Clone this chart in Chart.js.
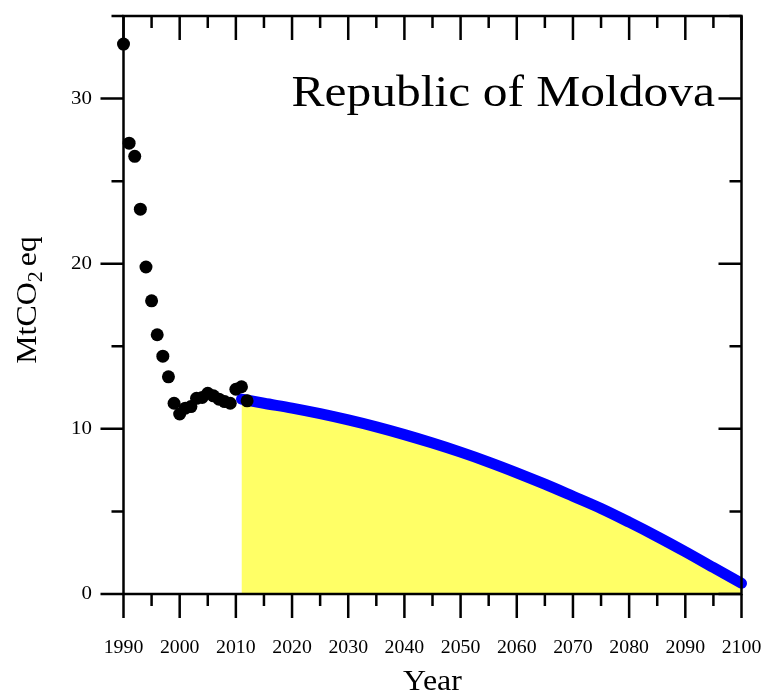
<!DOCTYPE html>
<html lang="en">
  <head>
    <meta charset="UTF-8" />
    <title>Republic of Moldova</title>
    <style>
      body {
        margin: 0;
        background: #fff;
      }
      .wrap {
        width: 763px;
        height: 692px;
        position: relative;
      }
    </style>
    <script src="https://cdn.jsdelivr.net/npm/chart.js"></script>
  </head>
  <body>
    <div class="wrap">
      <canvas id="moldovaChart"></canvas>
    </div>

    <script>
      // historical emissions (black dots)
      const histYears = [1990, 1991, 1992, 1993, 1994, 1995, 1996, 1997, 1998, 1999, 2000, 2001,
        2002, 2003, 2004, 2005, 2006, 2007, 2008, 2009, 2010, 2011, 2012];
      const histValues = [33.3, 27.3, 26.5, 23.3, 19.8, 17.75, 15.7, 14.4, 13.15, 11.55, 10.9, 11.25,
        11.35, 11.85, 11.9, 12.15, 12.0, 11.8, 11.65, 11.55, 12.4, 12.55, 11.7];

      // projected pathway (blue line, yellow area)
      const projYears = [2011, 2015, 2020, 2025, 2030, 2035, 2040, 2045, 2050, 2055, 2060,
        2065, 2070, 2075, 2080, 2085, 2090, 2095, 2100];
      const projValues = [11.8, 11.55, 11.26, 10.92, 10.54, 10.12, 9.65, 9.14, 8.59, 7.99, 7.34,
        6.65, 5.92, 5.18, 4.35, 3.48, 2.56, 1.6, 0.65];

      const xTicks = [1990, 2000, 2010, 2020, 2030, 2040, 2050, 2060, 2070, 2080, 2090, 2100];
      const yTicks = [0, 10, 20, 30];

      const serif = "'Liberation Serif', 'Times New Roman', serif";
      const stretch = 1.1; // reference type is a bit wider than Liberation Serif

      function wideText(ctx, text, x, y, align) {
        const w = ctx.measureText(text).width * stretch;
        let left = x;
        if (align === 'right') left = x - w;
        if (align === 'center') left = x - w / 2;
        ctx.save();
        ctx.translate(left, y);
        ctx.scale(stretch, 1);
        ctx.textAlign = 'left';
        ctx.fillText(text, 0, 0);
        ctx.restore();
        return w;
      }

      // frame with minor/major ticks: out on left & bottom, in on top & right
      const framePlugin = {
        id: 'frame',
        afterDatasetsDraw(chart) {
          const { ctx, chartArea: a, scales } = chart;
          const xs = scales.x, ys = scales.y;
          ctx.save();
          ctx.strokeStyle = '#000';
          ctx.lineWidth = 2.5;
          ctx.lineCap = 'butt';
          ctx.strokeRect(a.left, a.top, a.right - a.left, a.bottom - a.top);
          ctx.beginPath();
          for (let v = 0; v <= 35; v += 5) {
            const y = ys.getPixelForValue(v);
            const len = v % 10 === 0 ? 23 : 12;
            ctx.moveTo(a.left - len, y); ctx.lineTo(a.left, y);
            ctx.moveTo(a.right, y); ctx.lineTo(a.right - len, y);
          }
          for (let yr = 1990; yr <= 2100; yr += 5) {
            const x = xs.getPixelForValue(yr);
            const len = yr % 10 === 0 ? 24 : 12;
            ctx.moveTo(x, a.bottom); ctx.lineTo(x, a.bottom + len);
            ctx.moveTo(x, a.top); ctx.lineTo(x, a.top + len);
          }
          ctx.stroke();

          ctx.fillStyle = '#000';
          ctx.textBaseline = 'middle';

          // tick labels
          ctx.font = '18px ' + serif;
          xTicks.forEach(v => wideText(ctx, String(v), xs.getPixelForValue(v), 648, 'center'));
          ctx.font = '19px ' + serif;
          yTicks.forEach(v => wideText(ctx, String(v), 92, ys.getPixelForValue(v), 'right'));

          // axis title
          ctx.font = '29px ' + serif;
          wideText(ctx, 'Year', xs.getPixelForValue(2045), 682, 'center');

          // label inside the plot
          ctx.textBaseline = 'alphabetic';
          ctx.font = '45px ' + serif;
          wideText(ctx, 'Republic of Moldova', 715, 106, 'right');

          // y axis title with subscript
          ctx.translate(36, 300);
          ctx.rotate(-Math.PI / 2);
          ctx.font = '29px ' + serif;
          const w1 = ctx.measureText('MtCO').width * stretch;
          ctx.font = '20px ' + serif;
          const w2 = ctx.measureText('2').width * stretch;
          ctx.font = '29px ' + serif;
          const w3 = ctx.measureText('eq').width * stretch;
          const gap = 5;
          const start = -(w1 + w2 + gap + w3) / 2;
          wideText(ctx, 'MtCO', start, 0, 'left');
          ctx.font = '20px ' + serif;
          wideText(ctx, '2', start + w1, 6, 'left');
          ctx.font = '29px ' + serif;
          wideText(ctx, 'eq', start + w1 + w2 + gap, 0, 'left');
          ctx.restore();
        }
      };

      new Chart(document.getElementById('moldovaChart'), {
        type: 'line',
        data: {
          datasets: [
            {
              label: 'Historical',
              data: histYears.map((x, i) => ({ x: x, y: histValues[i] })),
              showLine: false,
              pointRadius: 6.5,
              pointBackgroundColor: '#000',
              pointBorderWidth: 0,
              clip: false
            },
            {
              label: 'Pathway',
              data: projYears.map((x, i) => ({ x: x, y: projValues[i] })),
              borderColor: '#0000ff',
              borderWidth: 11,
              borderCapStyle: 'round',
              cubicInterpolationMode: 'monotone',
              pointRadius: 0,
              fill: 'origin',
              backgroundColor: '#ffff66',
              clip: false
            }
          ]
        },
        options: {
          responsive: true,
          maintainAspectRatio: false,
          animation: false,
          layout: { padding: { top: 16, right: 21.5, left: 0, bottom: 0 } },
          plugins: {
            legend: { display: false },
            tooltip: { enabled: false }
          },
          scales: {
            x: {
              type: 'linear',
              min: 1990,
              max: 2100,
              grid: { display: false },
              border: { display: false },
              ticks: { display: false },
              afterFit: (s) => { s.height = 98; }
            },
            y: {
              min: 0,
              max: 35,
              grid: { display: false },
              border: { display: false },
              ticks: { display: false },
              afterFit: (s) => { s.width = 123.5; }
            }
          }
        },
        plugins: [framePlugin]
      });
    </script>
  </body>
</html>
